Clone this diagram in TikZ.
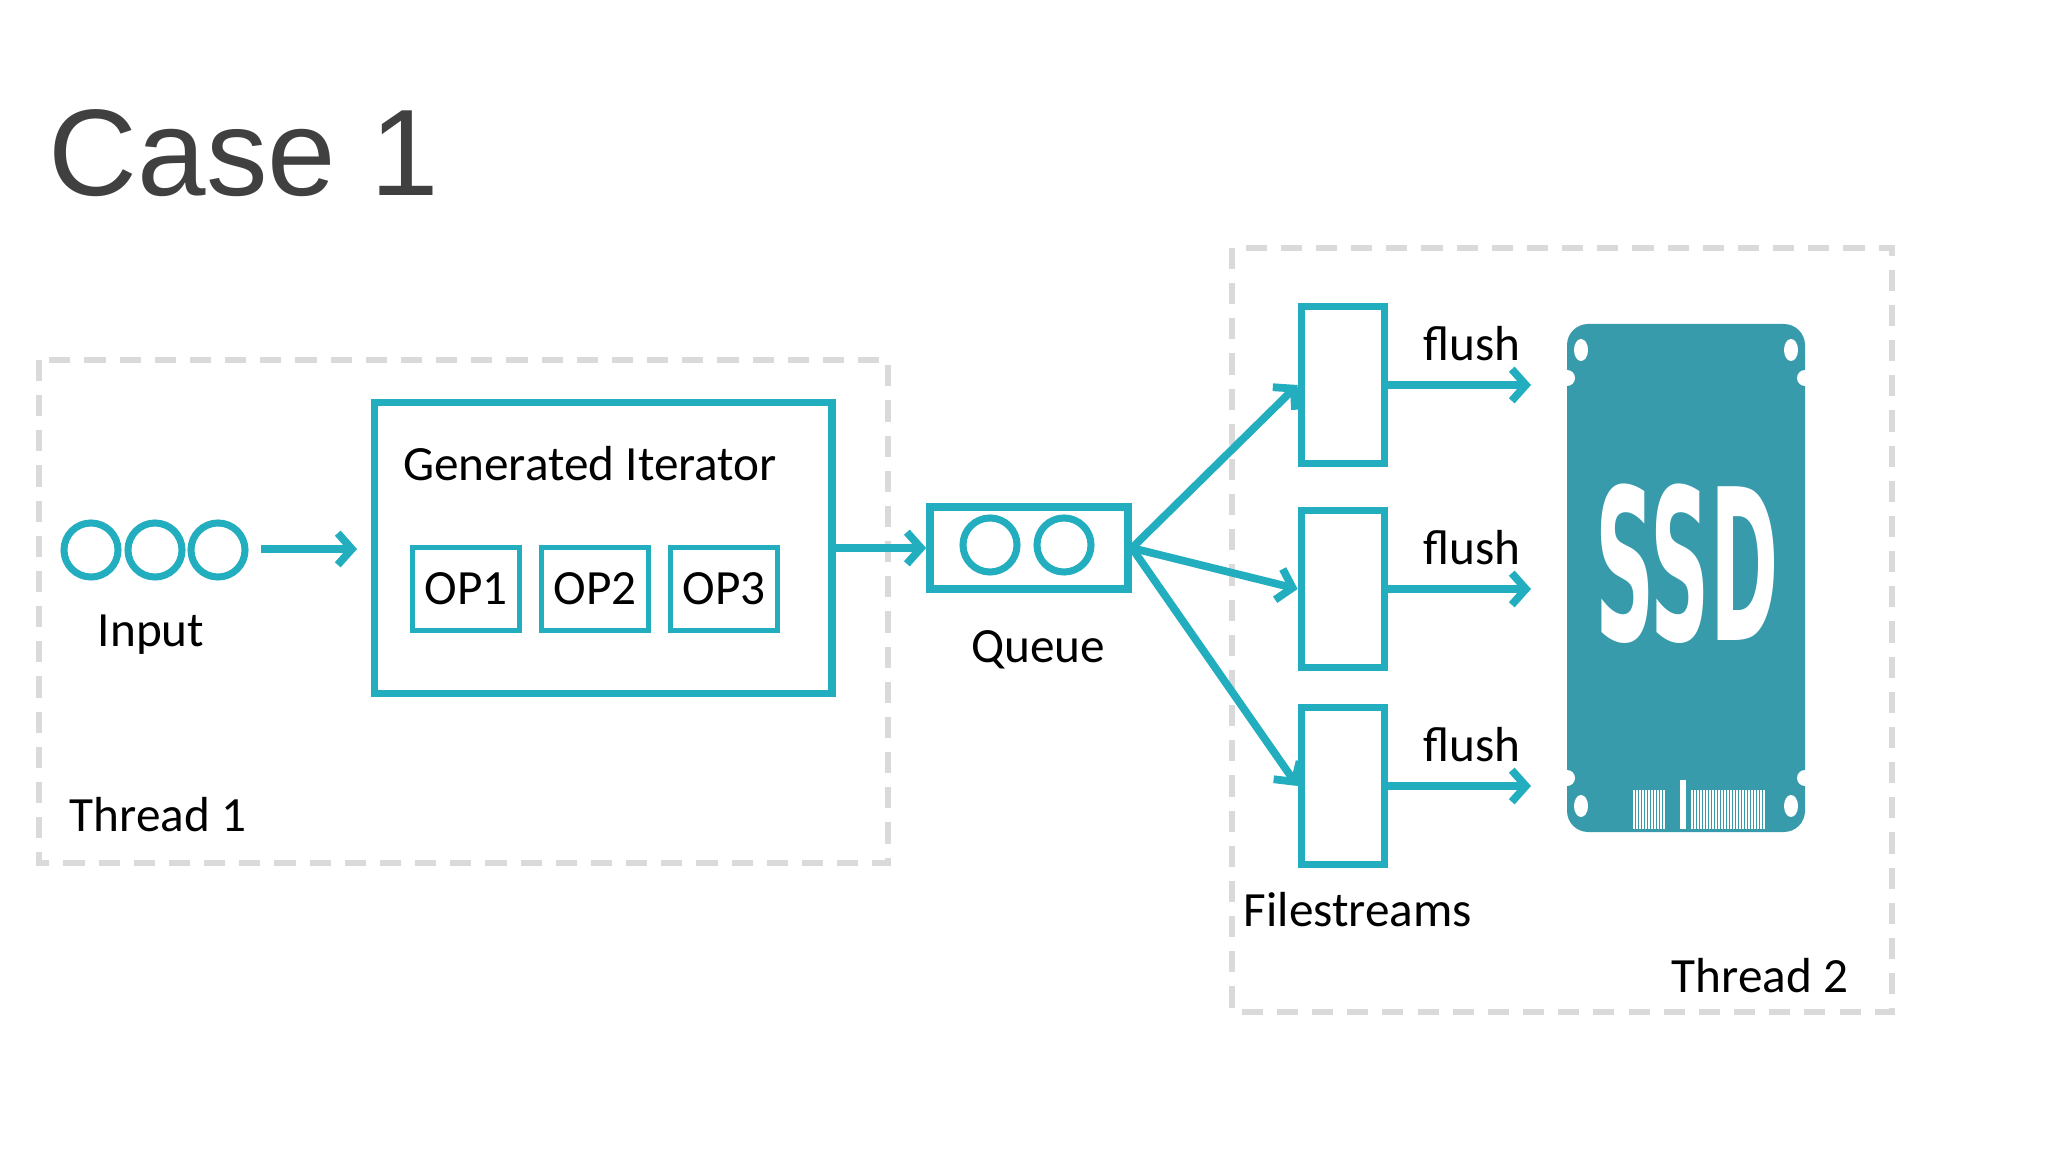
\documentclass[tikz,border=0pt]{standalone}
\usepackage{fontspec}
\setmainfont{Carlito}
\newfontfamily\titlefont{Liberation Sans}
\newfontfamily\ssdfont{DejaVu Sans Condensed}
\usetikzlibrary{arrows.meta,positioning,calc}
\definecolor{teal1}{HTML}{22AEBE}
\definecolor{ssdblue}{HTML}{379BAB}
\definecolor{frame}{HTML}{DADADA}
\tikzset{box/.style={draw=teal1,line width=2.2pt,inner sep=0pt}}
\tikzset{op/.style={draw=teal1,line width=1.2pt,minimum width=1.07cm,minimum height=0.83cm,inner sep=0pt,font=\fontsize{14}{16}\selectfont}}
\tikzset{item/.style={draw=teal1,line width=2pt,circle,minimum size=0.54cm,inner sep=0pt}}
\tikzset{flow/.style={draw=teal1,line width=2.2pt,-{Straight Barb[length=4pt,width=9pt]}}}
\tikzset{thread/.style={draw=frame,line width=1.8pt,dash pattern=on 6pt off 4pt}}
\tikzset{lbl/.style={font=\fontsize{14}{16}\selectfont,inner sep=0pt}}

\begin{document}
\begin{tikzpicture}[x=0.01cm,y=-0.01cm]
\useasboundingbox (0,0) rectangle (2048,1152);

% title
\node[anchor=base west,inner sep=0pt,text=black!75,font=\titlefont\fontsize{35}{38}\selectfont] (title) at (48,196) {Case 1};

% threads
\draw[thread] (39,360) rectangle (888,863);
\draw[thread] (1232,248) rectangle (1892,1012);
\node[lbl] (t1) at (158,815) {Thread 1};
\node[lbl] (t2) at (1760,976) {Thread 2};

% input
\foreach \x [count=\i] in {91,155,218} {\node[item] (in\i) at (\x,550) {};}
\node[lbl] (input) at (151,635) {Input};

% generated iterator
\node[box,minimum width=4.57cm,minimum height=2.91cm] (gen) at (603,548) {};
\node[lbl] (genlbl) at (590,464) {Generated Iterator};
\node[op] (op1) at (466,589) {OP1};
\node[op] (op2) at (595,589) {OP2};
\node[op] (op3) at (724,589) {OP3};
\coordinate (inA) at (261,549);
\coordinate (inB) at (357,549);
\draw[flow] (inA) -- (inB);

% queue
\node[box,minimum width=1.98cm,minimum height=0.82cm] (queue) at (1029,548) {};
\node[item] (q1) at (990,545) {};
\node[item] (q2) at (1064,545) {};
\node[lbl] (qlbl) at (1038,650) {Queue};
\draw[flow] (gen.east |- queue.west) -- (queue.west);

% filestreams
\foreach \y/\n in {385/1,589/2,786/3} {
  \node[box,minimum width=0.83cm,minimum height=1.57cm] (fs\n) at (1343,\y) {};
  \draw[flow] (queue.east) -- (fs\n.west);
  \coordinate (fe\n) at (1531,\y);
  \draw[flow] (fs\n.east) -- (fe\n);
  \node[lbl] (fl\n) at (1472,\y-41) {flush};
}
\node[lbl] (fslbl) at (1358,910) {Filestreams};

% ssd
\fill[ssdblue,rounded corners=6pt] (1567,324) rectangle (1805,832);
\foreach \x in {1567,1805} {
  \foreach \y in {378,778} {\fill[white] (\x,\y) circle (8);}
}
\foreach \x in {1581,1791} {
  \fill[white] (\x,350) ellipse (7 and 11);
  \fill[white] (\x,806) ellipse (7 and 11);
}
\node[text=white,inner sep=0pt,font=\ssdfont\bfseries] (ssd) at (1687,564) {\scalebox{2.6}[6.0]{\fontsize{10}{10}\selectfont SSD}};
\foreach \x in {1634,1637,...,1664} {\draw[white,line width=0.6pt] (\x,790) -- (\x,829);}
\fill[white] (1680,780) rectangle (1686,829);
\foreach \x in {1692,1695,...,1764} {\draw[white,line width=0.6pt] (\x,790) -- (\x,829);}
\end{tikzpicture}
\end{document}
